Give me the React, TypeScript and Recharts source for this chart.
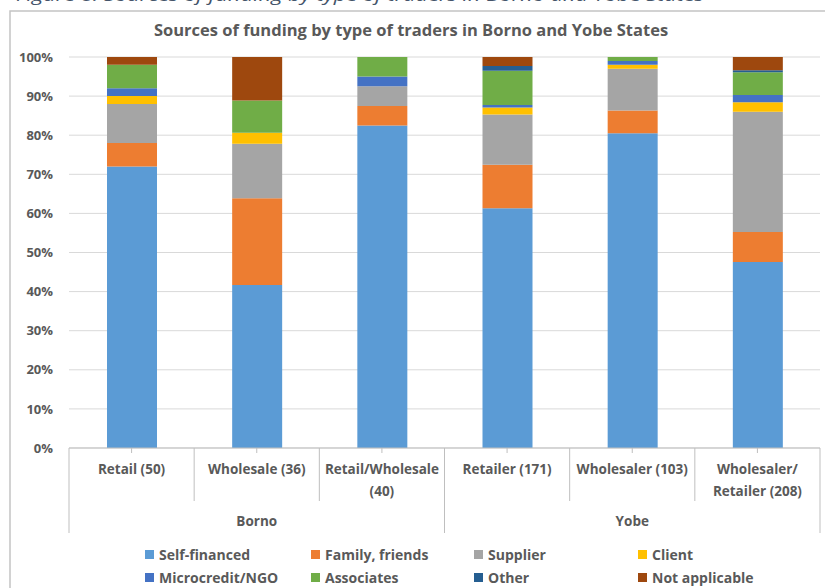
import React from "react";
import { Bar, BarChart, CartesianGrid, XAxis, YAxis } from "recharts";

const categories = [
  "Retail (50)",
  "Wholesale (36)",
  "Retail/Wholesale (40)",
  "Retailer (171)",
  "Wholesaler (103)",
  "Wholesaler/ Retailer (208)",
];
const tickLabels = [
  ["Retail (50)"],
  ["Wholesale (36)"],
  ["Retail/Wholesale", "(40)"],
  ["Retailer (171)"],
  ["Wholesaler (103)"],
  ["Wholesaler/", "Retailer (208)"],
];
const states = ["Borno", "Borno", "Borno", "Yobe", "Yobe", "Yobe"];

// shares in % per trader type
const selfFinanced = [72, 41.7, 82.5, 61.4, 80.6, 47.6];
const familyFriends = [6, 22.2, 5, 11.1, 5.8, 7.7];
const supplier = [10, 13.9, 5, 12.9, 10.7, 30.8];
const client = [2, 2.8, 0, 1.8, 1.0, 2.4];
const microcredit = [2, 0, 2.5, 0.6, 1.0, 1.9];
const associates = [6, 8.3, 5, 8.8, 1.0, 5.8];
const other = [0, 0, 0, 1.2, 0, 0.5];
const notApplicable = [2, 11.1, 0, 2.3, 0, 3.4];

const yTicks = [0, 0.1, 0.2, 0.3, 0.4, 0.5, 0.6, 0.7, 0.8, 0.9, 1];

const series = [
  { key: "selfFinanced", name: "Self-financed", values: selfFinanced, color: "#5B9BD5" },
  { key: "familyFriends", name: "Family, friends", values: familyFriends, color: "#ED7D31" },
  { key: "supplier", name: "Supplier", values: supplier, color: "#A5A5A5" },
  { key: "client", name: "Client", values: client, color: "#FFC000" },
  { key: "microcredit", name: "Microcredit/NGO", values: microcredit, color: "#4472C4" },
  { key: "associates", name: "Associates", values: associates, color: "#70AD47" },
  { key: "other", name: "Other", values: other, color: "#255E91" },
  { key: "notApplicable", name: "Not applicable", values: notApplicable, color: "#9E480E" },
];

const data = categories.map((c, i) => {
  const row: Record<string, any> = { name: c, state: states[i] };
  series.forEach((s) => (row[s.key] = s.values[i]));
  return row;
});

const W = 825;
const H = 588;
const margin = { top: 57, right: 5, left: 0, bottom: 55 };
const yAxisWidth = 69;
const xAxisHeight = 85;
const band = (W - margin.left - margin.right - yAxisWidth) / categories.length;
const textColor = "#595959";
const lineColor = "#BFBFBF";
const font = "'Open Sans', sans-serif";

function CategoryTick(props: any) {
  const { x, y, index } = props;
  const lines = tickLabels[index] || [];
  const right = x + band / 2;
  const left = x - band / 2;
  const lastOfGroup = index === states.length - 1 || states[index + 1] !== states[index];
  const firstOfGroup = index === 0;
  const groupIdx = states.map((s, i) => i).filter((i) => states[i] === states[index]);
  const isMiddle = groupIdx[Math.floor(groupIdx.length / 2)] === index;
  return (
    <g>
      <line x1={x} x2={x} y1={y} y2={y + 5} stroke={lineColor} />
      {firstOfGroup && <line x1={left} x2={left} y1={y} y2={y + 85} stroke={lineColor} />}
      <line x1={right} x2={right} y1={y} y2={y + (lastOfGroup ? 85 : 53)} stroke={lineColor} />
      {lines.map((l: string, k: number) => (
        <text
          key={k}
          x={x}
          y={y + 22 + k * 22}
          textAnchor="middle"
          dominantBaseline="middle"
          fill={textColor}
          fontSize={13.5}
          fontWeight="bold"
          fontFamily={font}
        >
          {l}
        </text>
      ))}
      {isMiddle && (
        <text
          x={x}
          y={y + 74}
          textAnchor="middle"
          dominantBaseline="middle"
          fill={textColor}
          fontSize={13.5}
          fontWeight="bold"
          fontFamily={font}
        >
          {states[index]}
        </text>
      )}
    </g>
  );
}

const legendCols = [145, 311, 474, 638];
const legendRows = [554, 577];

export default function App() {
  return (
    <div style={{ position: "absolute", left: 0, top: 0, width: W, height: H, background: "#fff", overflow: "hidden" }}>
      <svg width={W} height={H} style={{ position: "absolute", left: 0, top: 0 }}>
        <text
          x={16}
          y={0.5}
          fill="#44546A"
          fontSize={17}
          fontStyle="italic"
          fontFamily={font}
          textLength={688}
          lengthAdjust="spacingAndGlyphs"
        >
          Figure 8: Sources of funding by type of traders in Borno and Yobe States
        </text>
        <rect x={10} y={11} width={W} height={H} fill="#fff" stroke="#C4C4C4" strokeWidth={1.5} />
        <text
          x={411}
          y={32}
          textAnchor="middle"
          dominantBaseline="middle"
          fill={textColor}
          fontSize={16.5}
          fontWeight="bold"
          fontFamily={font}
        >
          Sources of funding by type of traders in Borno and Yobe States
        </text>
      </svg>
      <div style={{ position: "absolute", left: 0, top: 0 }}>
        <BarChart width={W} height={H} data={data} margin={margin} stackOffset="expand" barSize={50}>
          <CartesianGrid horizontal vertical={false} stroke="#D9D9D9" />
          <XAxis
            dataKey="name"
            height={xAxisHeight}
            interval={0}
            tickSize={0}
            tickMargin={0}
            tickLine={false}
            axisLine={{ stroke: lineColor }}
            tick={<CategoryTick />}
          />
          <YAxis
            width={yAxisWidth}
            domain={[0, 1]}
            ticks={yTicks}
            tickFormatter={(v: number) => `${Math.round(v * 100)}%`}
            axisLine={false}
            tickLine={false}
            tickSize={0}
            tickMargin={16}
            tick={{ fill: textColor, fontSize: 13, fontWeight: "bold", fontFamily: font }}
          />
          {series.map((s) => (
            <Bar key={s.key} dataKey={s.key} name={s.name} stackId="a" fill={s.color} isAnimationActive={false} />
          ))}
        </BarChart>
      </div>
      {series.map((s, i) => (
        <div
          key={s.key}
          style={{
            position: "absolute",
            left: legendCols[i % 4],
            top: legendRows[Math.floor(i / 4)] - 10,
            height: 20,
            display: "flex",
            alignItems: "center",
            fontFamily: font,
            fontSize: 14,
            fontWeight: "bold",
            color: textColor,
            whiteSpace: "nowrap",
          }}
        >
          <span style={{ display: "inline-block", width: 9, height: 9, background: s.color, marginRight: 5 }} />
          {s.name}
        </div>
      ))}
    </div>
  );
}
